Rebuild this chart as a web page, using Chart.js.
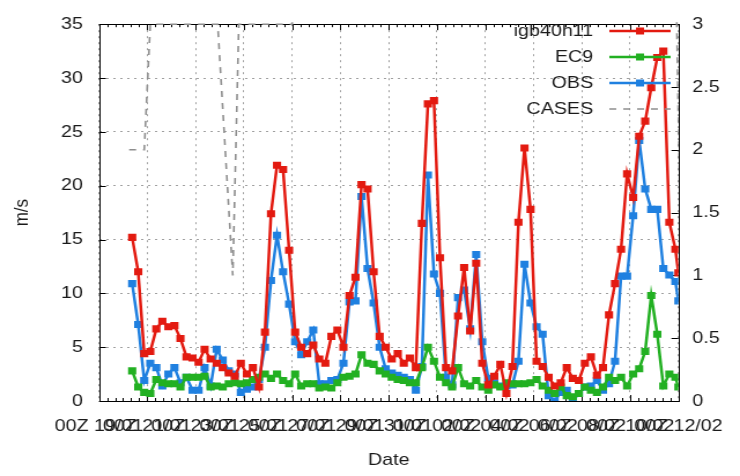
<!DOCTYPE html>
<html>
<head>
<meta charset="utf-8">
<script src="https://cdn.jsdelivr.net/npm/chart.js@4.4.9/dist/chart.umd.min.js"></script>
<style>
    html, body { margin: 0; padding: 0; background: #fff; overflow: hidden; }
    /* bitmap de 640px esticado para 740px de largura */
    #quadro { width: 640px; height: 476px; transform: scaleX(1.15625); transform-origin: 0 0; }
    #grafico { display: block; }
</style>
</head>
<body>
<div id="quadro"><canvas id="grafico" width="640" height="476"></canvas></div>
<script>
// rótulos do eixo x (a cada 48h a partir de 00Z 19/01)
const tickLabels = ['00Z 19/01', '00Z 21/01', '00Z 23/01', '00Z 25/01', '00Z 27/01', '00Z 29/01', '00Z 31/01',
    '00Z 02/02', '00Z 04/02', '00Z 06/02', '00Z 08/02', '00Z 10/02', '00Z 12/02'];

// séries a cada 6h desde 09Z 20/01 (33h), último valor às 00Z 12/02 (576h)
const horaInicial = 33;
const passoHoras = 6;
const horaFinal = 576;

const igb40h11 = [15.2, 12.0, 4.4, 4.6, 6.7, 7.4, 6.9, 7.0, 5.8, 4.1,
    4.0, 3.6, 4.8, 3.9, 3.5, 3.1, 2.6, 2.3, 3.5, 2.5,
    3.1, 1.3, 6.4, 17.4, 21.9, 21.5, 14.0, 6.4, 5.0, 4.4,
    5.2, 3.9, 3.5, 6.0, 6.6, 5.0, 9.8, 11.5, 20.1, 19.7,
    12.0, 6.0, 5.0, 3.9, 4.4, 3.5, 4.0, 3.1, 16.5, 27.6,
    27.9, 13.3, 3.1, 2.8, 7.9, 12.4, 6.5, 12.8, 3.5, 1.5,
    2.3, 3.4, 0.7, 3.2, 16.6, 23.5, 17.8, 3.7, 3.2, 2.2,
    1.4, 1.7, 3.1, 2.1, 1.9, 3.5, 4.1, 2.4, 3.1, 8.0,
    10.9, 14.1, 21.1, 18.9, 24.6, 26.0, 29.1, 31.9, 32.5, 16.6,
    14.1, 11.9];

const ec9 = [2.8, 1.3, 0.8, 0.7, 2.0, 1.7, 1.6, 1.6, 1.3, 2.2,
    2.2, 2.2, 2.3, 1.3, 1.4, 1.3, 1.6, 1.7, 1.6, 1.7,
    2.0, 2.2, 2.5, 2.1, 2.5, 1.9, 1.6, 2.5, 1.4, 1.6,
    1.6, 1.2, 1.3, 1.2, 1.7, 2.2, 2.3, 2.5, 4.3, 3.5,
    3.4, 2.8, 2.5, 2.2, 2.0, 1.9, 1.7, 1.7, 3.1, 5.0,
    3.7, 2.2, 1.7, 1.3, 3.1, 1.6, 1.4, 1.9, 1.3, 1.0,
    1.5, 1.3, 1.7, 1.6, 1.6, 1.6, 1.7, 2.0, 1.4, 1.0,
    0.7, 1.3, 0.5, 0.4, 0.7, 1.3, 1.0, 0.8, 1.3, 2.2,
    1.9, 2.2, 1.4, 2.5, 3.0, 4.6, 9.8, 6.2, 1.4, 2.5,
    2.2, 1.3];

const obs = [10.9, 7.1, 1.9, 3.5, 3.1, 1.4, 2.5, 3.1, 1.7, 2.2,
    1.0, 1.0, 3.1, 1.4, 4.8, 3.8, 2.8, 2.5, 0.8, 1.1,
    1.3, 2.0, 5.0, 11.2, 15.4, 12.0, 9.0, 5.5, 4.3, 5.5,
    6.6, 1.6, 1.6, 1.9, 2.0, 3.5, 9.2, 9.3, 19.0, 12.3,
    9.1, 5.0, 3.0, 2.6, 2.4, 2.2, 2.0, 1.0, 3.2, 21.0,
    11.8, 10.0, 2.2, 1.5, 9.6, 10.3, 6.7, 13.6, 5.5, 2.1,
    1.7, 1.4, 1.4, 1.5, 3.7, 12.7, 9.1, 6.9, 6.2, 0.5,
    0.0, 0.8, 1.0, 0.0, 0.7, 1.3, 1.4, 1.9, 1.0, 1.6,
    3.7, 11.6, 11.6, 17.2, 24.2, 19.7, 17.8, 17.8, 12.3, 11.7,
    11.1, 9.3];

// casos (eixo da direita); acima de 3 sai do gráfico
const casesHoras = [30, 45, 51, 118, 133, 139, 192, 198, 574, 578];
const casesValores = [2, 2, 3, 3, 1, 3, 3, 4, 3.2, 1.3];

const corTexto = '#1a1a1a';
const fonte = { family: "'Liberation Sans', Arial, sans-serif", size: 17 };

const horas = igb40h11.map((_, i) => Math.min(horaInicial + i * passoHoras, horaFinal));
const pontos = (valores) => valores.map((v, i) => ({ x: horas[i], y: v }));

const serie = (label, valores, cor) => ({
    label: label,
    data: pontos(valores),
    borderColor: cor,
    backgroundColor: cor,
    borderWidth: 2.5,
    pointStyle: 'rect',
    pointRadius: 5,
    pointBorderWidth: 0,
    tension: 0,
    yAxisID: 'y'
});

// moldura com tics para dentro (estilo gnuplot)
const moldura = {
    id: 'moldura',
    beforeDatasetsDraw(chart) {
        const { ctx, chartArea: a, scales } = chart;
        ctx.save();
        ctx.strokeStyle = '#000';
        ctx.lineWidth = 1;
        ctx.beginPath();
        for (let h = 0; h <= 576; h += 8) {
            const x = Math.round(scales.x.getPixelForValue(h)) + 0.5;
            const t = h % 48 === 0 ? 6 : 3;
            ctx.moveTo(x, a.top); ctx.lineTo(x, a.top + t);
            ctx.moveTo(x, a.bottom); ctx.lineTo(x, a.bottom - t);
        }
        for (let v = 0; v <= 35; v += 5) {
            const y = Math.round(scales.y.getPixelForValue(v)) + 0.5;
            ctx.moveTo(a.left, y); ctx.lineTo(a.left + 6, y);
        }
        for (let v = 0; v <= 3; v += 0.5) {
            const y = Math.round(scales.y2.getPixelForValue(v)) + 0.5;
            ctx.moveTo(a.right, y); ctx.lineTo(a.right - 6, y);
        }
        ctx.stroke();
        ctx.strokeRect(Math.round(a.left) + 0.5, Math.round(a.top) + 0.5,
            Math.round(a.right - a.left), Math.round(a.bottom - a.top));
        ctx.restore();
    }
};

// legenda dentro da área do gráfico, texto à esquerda da amostra
const legenda = {
    id: 'legenda',
    afterDraw(chart) {
        const { ctx } = chart;
        ctx.save();
        ctx.font = `${fonte.size}px ${fonte.family}`;
        ctx.fillStyle = corTexto;
        ctx.textAlign = 'right';
        ctx.textBaseline = 'middle';
        chart.data.datasets.forEach((ds, i) => {
            const y = 31 + i * 26;
            ctx.fillText(ds.label, 513, y);
            ctx.strokeStyle = ds.borderColor;
            ctx.lineWidth = ds.borderWidth;
            ctx.setLineDash(ds.borderDash || []);
            ctx.beginPath();
            ctx.moveTo(527, y); ctx.lineTo(580, y);
            ctx.stroke();
            ctx.setLineDash([]);
            if (ds.pointRadius > 0) {
                ctx.fillStyle = ds.backgroundColor;
                ctx.fillRect(553.5 - 3.5, y - 3.5, 7, 7);
                ctx.fillStyle = corTexto;
            }
        });
        ctx.restore();
    }
};

const ctx = document.getElementById('grafico');
new Chart(ctx, {
    type: 'line',
    data: {
        datasets: [
            serie('igb40h11', igb40h11, '#e31a10'),
            serie('EC9', ec9, '#22b022'),
            serie('OBS', obs, '#1f80e0'),
            {
                label: 'CASES',
                data: casesHoras.map((h, i) => ({ x: h, y: casesValores[i] })),
                borderColor: '#8e8e8e',
                borderWidth: 1.6,
                borderDash: [6, 6],
                pointRadius: 0,
                tension: 0,
                clip: { left: 0, top: 2, right: 0, bottom: 0 },
                yAxisID: 'y2'
            }
        ]
    },
    options: {
        responsive: false,
        animation: false,
        devicePixelRatio: 1,
        layout: { padding: { top: 13, left: 0, right: 0, bottom: 0 } },
        plugins: { legend: { display: false }, tooltip: { enabled: false } },
        scales: {
            x: {
                type: 'linear',
                min: 0,
                max: 576,
                ticks: {
                    stepSize: 48,
                    autoSkip: false,
                    maxRotation: 0,
                    minRotation: 0,
                    padding: 15,
                    color: corTexto,
                    font: fonte,
                    callback: (v) => tickLabels[v / 48]
                },
                grid: { color: '#a0a0a0', drawTicks: false },
                border: { display: false, dash: [2, 4] },
                title: { display: true, text: 'Date', color: corTexto, font: fonte, padding: { top: 0, bottom: 5 } },
                afterFit: (s) => { s.height = 75; }
            },
            y: {
                position: 'left',
                min: 0,
                max: 35,
                ticks: { stepSize: 5, padding: 14, color: corTexto, font: fonte },
                grid: { color: '#a0a0a0', drawTicks: false },
                border: { display: false, dash: [2, 4] },
                title: { display: true, text: 'm/s', color: corTexto, font: fonte, padding: { top: 9, bottom: 0 } },
                afterFit: (s) => { s.width = 85.6; }
            },
            y2: {
                position: 'right',
                min: 0,
                max: 3,
                ticks: { stepSize: 0.5, padding: 12, color: corTexto, font: fonte, callback: (v) => String(v) },
                grid: { drawOnChartArea: false, drawTicks: false },
                border: { display: false },
                afterFit: (s) => { s.width = 38; }
            }
        }
    },
    plugins: [moldura, legenda]
});
</script>
</body>
</html>
